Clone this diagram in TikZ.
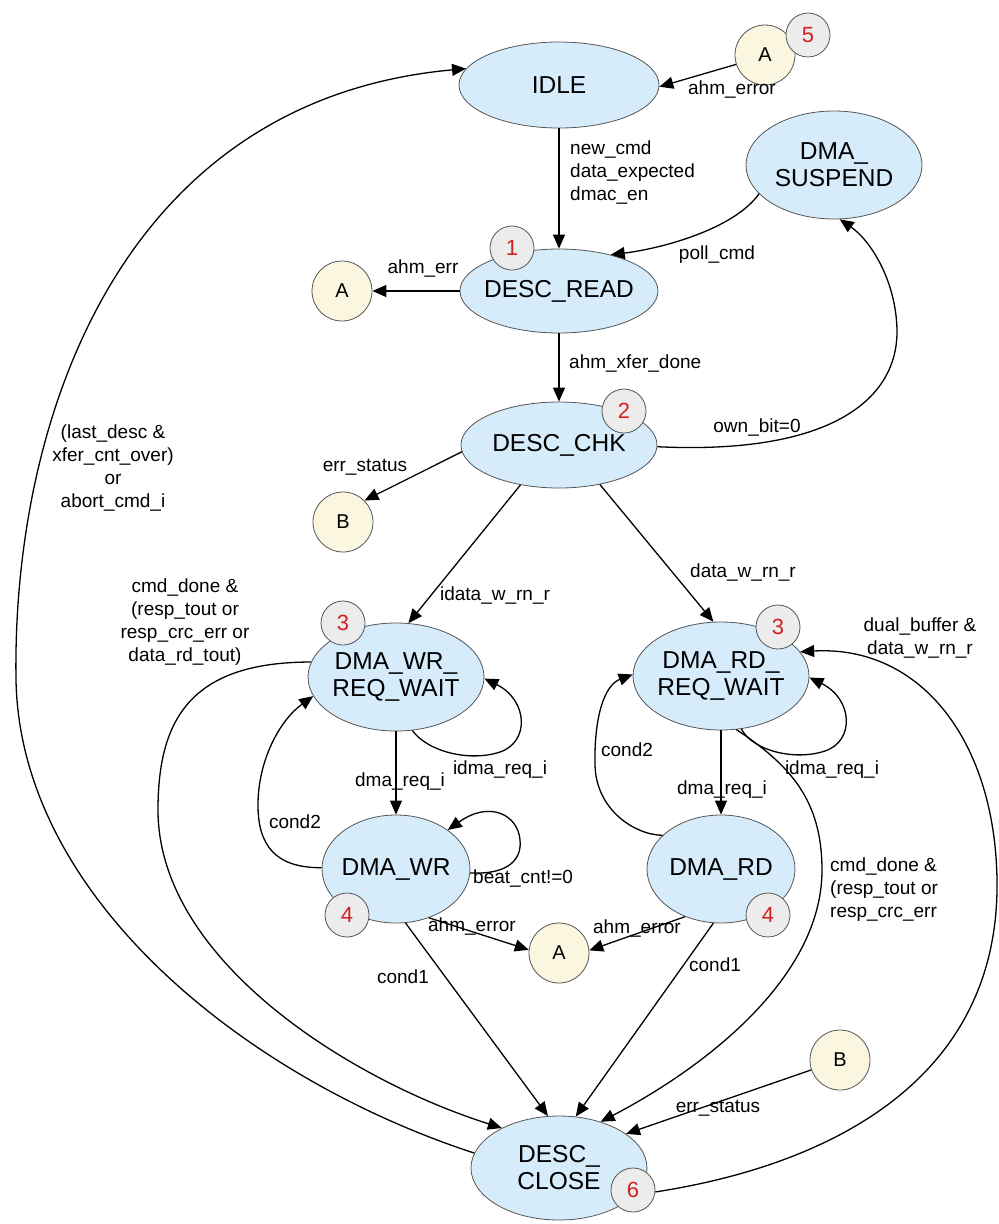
\documentclass[tikz,border=0pt]{standalone}
\usepackage{fontspec}
\setmainfont{Liberation Sans}
\usetikzlibrary{arrows.meta,shapes.geometric}
\definecolor{stfill}{RGB}{214,236,250}
\definecolor{stline}{RGB}{85,85,85}
\definecolor{cfill}{RGB}{250,246,224}
\definecolor{bfill}{RGB}{236,236,236}
\definecolor{bred}{RGB}{212,32,32}
\newcommand{\zw}[1]{\makebox[0pt]{#1}}
\tikzset{
  state/.style={ellipse, draw=stline, line width=0.8pt, fill=stfill, inner sep=0pt,
    align=center, font=\fontsize{24.5}{27}\selectfont},
  conn/.style={circle, draw=stline, line width=0.8pt, fill=cfill, inner sep=0pt,
    minimum size=60pt, font=\fontsize{20}{24}\selectfont},
  badge/.style={circle, draw=stline, line width=0.8pt, fill=bfill, inner sep=0pt,
    minimum size=44pt, text=bred, font=\fontsize{22}{24}\selectfont},
  lbl/.style={inner sep=0pt, align=center, font=\fontsize{19}{23}\selectfont},
  tr/.style={line width=1.3pt, -{Triangle[length=14pt,width=12pt]}}
}
\begin{document}
\begin{tikzpicture}[x=1pt,y=-1pt]
\useasboundingbox (0,0) rectangle (999,1224);
% states
\node[state, minimum width=200pt, minimum height=86pt] (idle) at (559,85) {\zw{IDLE}};
\node[state, minimum width=198pt, minimum height=84pt] (read) at (559,291) {\zw{DESC\_READ}};
\node[state, minimum width=196pt, minimum height=86pt] (chk) at (559,445) {\zw{DESC\_CHK}};
\node[state, minimum width=176pt, minimum height=108pt] (susp) at (834,165) {\zw{DMA\_}\\\zw{SUSPEND}};
\node[state, minimum width=176pt, minimum height=108pt] (wrw) at (396,677) {\zw{DMA\_WR\_}\\\zw{REQ\_WAIT}};
\node[state, minimum width=176pt, minimum height=108pt] (rdw) at (721,676) {\zw{DMA\_RD\_}\\\zw{REQ\_WAIT}};
\node[state, minimum width=148pt, minimum height=108pt] (wr) at (396,869) {\zw{DMA\_WR}};
\node[state, minimum width=148pt, minimum height=108pt] (rd) at (721,869) {\zw{DMA\_RD}};
\node[state, minimum width=176pt, minimum height=104pt] (close) at (559,1168) {\zw{DESC\_}\\\zw{CLOSE}};
% connectors A / B
\node[conn] (aTop) at (765,55) {A};
\node[conn] (aL) at (342,291) {A};
\node[conn] (bL) at (343,522) {B};
\node[conn] (aM) at (559,953) {A};
\node[conn] (bR) at (840,1060) {B};
% transitions
\draw[tr] (idle) -- (read);
\draw[tr] (aTop.198) -- (idle.-1);
\draw[tr] (susp.201) .. controls (735,228) and (665,248) .. (read.35);
\draw[tr] (read) -- (aL);
\draw[tr] (read) -- (chk);
\draw[tr] (chk.-1) .. controls (830,455) and (898,400) .. (897,330)
   .. controls (896,280) and (870,240) .. (susp.-84);
\draw[tr] (chk.184) -- (bL.45);
\draw[tr] (chk.-134) -- (wrw.77);
\draw[tr] (chk.-44) -- (rdw.98);
\draw[tr] (wrw) -- (wr);
\draw[tr] (rdw) -- (rd);
\draw[tr] (wrw.-73) .. controls (428,752) and (470,762) .. (500,752)
   .. controls (530,742) and (528,700) .. (wrw.-1);
\draw[tr] (rdw.-69) .. controls (753,751) and (795,761) .. (825,751)
   .. controls (855,741) and (853,699) .. (rdw.-1);
\draw[tr] (wr.-3) .. controls (510,875) and (522,858) .. (520,840)
   .. controls (518,815) and (490,800) .. (wr.37);
\draw[tr] (wr.179) .. controls (275,868) and (258,845) .. (258,805)
   .. controls (258,760) and (280,720) .. (wrw.193);
\draw[tr] (rd.150) .. controls (635,835) and (596,810) .. (595,765)
   .. controls (594,715) and (605,685) .. (rdw.179);
\draw[tr] (wrw.170) .. controls (190,662) and (158,720) .. (158,810)
   .. controls (158,960) and (350,1080) .. (close.145);
\draw[tr] (wr.-80) -- (close.102);
\draw[tr] (rd.-98) -- (close.72);
\draw[tr] (rdw.-74) .. controls (790,765) and (822,800) .. (822,870)
   .. controls (822,980) and (700,1070) .. (close.48);
\draw[tr] (bR) -- (close.27);
\draw[tr] (wr.-56) -- (aM.174);
\draw[tr] (rd.-127) -- (aM.5);
\draw[tr] (close.170) .. controls (250,1080) and (20,900) .. (16,680)
   .. controls (12,420) and (120,100) .. (idle.170);
% badges
\node[badge] (b5) at (808,35) {5};
\node[badge] (b1) at (512,248) {1};
\node[badge] (b2) at (624,411) {2};
\node[badge] (b3L) at (343,623) {3};
\node[badge] (b3R) at (778,627) {3};
\node[badge] (b4L) at (347,915) {4};
\node[badge] (b4R) at (768,915) {4};
\node[badge] (b6) at (633,1190) {6};
\draw[tr] (b6.-5) .. controls (830,1165) and (1000,1080) .. (997,880)
   .. controls (995,740) and (920,645) .. (rdw.17);
% labels
\node[lbl, anchor=west, align=left] (l1) at (570,172) {new\_cmd\\data\_expected\\dmac\_en};
\node[lbl] (l2) at (732,90) {ahm\_error};
\node[lbl] (l3) at (717,255) {poll\_cmd};
\node[lbl] (l4) at (423,268) {ahm\_err};
\node[lbl, anchor=west] (l5) at (569,363) {ahm\_xfer\_done};
\node[lbl] (l6) at (757,427) {own\_bit=0};
\node[lbl] (l7) at (365,467) {err\_status};
\node[lbl] (l8) at (113,468) {(last\_desc \&\\xfer\_cnt\_over)\\or\\abort\_cmd\_i};
\node[lbl] (l9) at (495,595) {idata\_w\_rn\_r};
\node[lbl] (l10) at (743,572) {data\_w\_rn\_r};
\node[lbl] (l11) at (185,622) {cmd\_done \&\\(resp\_tout or\\resp\_crc\_err or\\data\_rd\_tout)};
\node[lbl] (l12) at (920,638) {dual\_buffer \&\\data\_w\_rn\_r};
\node[lbl] (l13) at (500,770) {idma\_req\_i};
\node[lbl] (l14) at (832,770) {idma\_req\_i};
\node[lbl] (l15) at (400,782) {dma\_req\_i};
\node[lbl] (l16) at (722,790) {dma\_req\_i};
\node[lbl] (l17) at (295,822) {cond2};
\node[lbl] (l18) at (627,750) {cond2};
\node[lbl, anchor=west] (l19) at (473,878) {beat\_cnt!=0};
\node[lbl] (l20) at (472,926) {ahm\_error};
\node[lbl] (l21) at (637,928) {ahm\_error};
\node[lbl] (l22) at (403,977) {cond1};
\node[lbl] (l23) at (715,965) {cond1};
\node[lbl, anchor=west, align=left] (l24) at (830,890) {cmd\_done \&\\(resp\_tout or\\resp\_crc\_err};
\node[lbl] (l25) at (718,1108) {err\_status};
\end{tikzpicture}
\end{document}
